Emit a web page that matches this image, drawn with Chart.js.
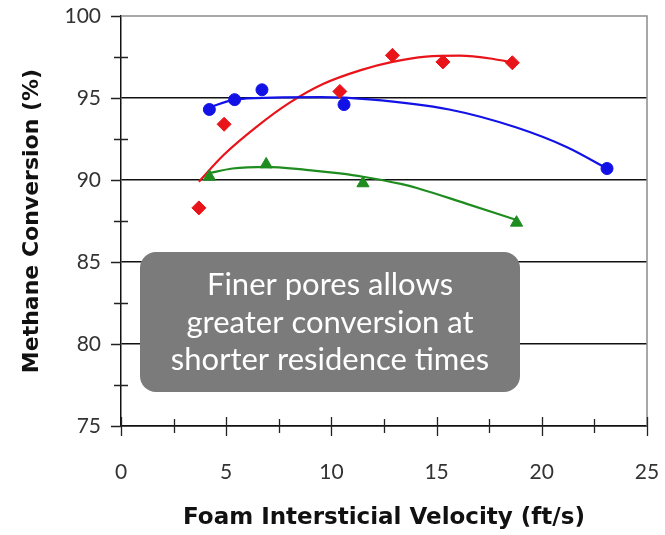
<!DOCTYPE html>
<html>
<head>
<meta charset="utf-8">
<script src="https://cdn.jsdelivr.net/npm/chart.js@4.4.0/dist/chart.umd.min.js"></script>
<style>
  html, body { margin: 0; padding: 0; background: #ffffff; }
  #wrap { width: 665px; height: 535px; }
</style>
</head>
<body>
<div id="wrap"><canvas id="chart" width="665" height="535"></canvas></div>
<script>
const blueX = [4.2, 5.4, 6.7, 10.6, 23.1];
const blueY = [94.3, 94.9, 95.5, 94.6, 90.7];
const redX = [3.7, 4.9, 10.4, 12.9, 15.3, 18.6];
const redY = [88.3, 93.4, 95.4, 97.6, 97.2, 97.15];
const greenX = [4.2, 6.9, 11.5, 18.8];
const greenY = [90.2, 90.95, 89.8, 87.4];

//trend curves
const blueFitX = [4.15, 5.4, 7.2, 9.5, 11.8, 15.6, 18.8, 21.2, 23.1];
const blueFitY = [94.4, 94.9, 95.02, 95.05, 94.92, 94.3, 93.2, 92.0, 90.7];
const redFitX = [3.7, 4.9, 6.5, 8.0, 9.6, 11.4, 12.9, 14.5, 16.1, 17.7, 18.65];
const redFitY = [89.9, 91.55, 93.3, 94.7, 95.85, 96.7, 97.2, 97.52, 97.58, 97.38, 97.15];
const greenFitX = [4.15, 5.3, 6.9, 8.8, 10.4, 11.5, 13.3, 14.1, 16.4, 18.8];
const greenFitY = [90.4, 90.7, 90.8, 90.62, 90.4, 90.2, 89.76, 89.5, 88.56, 87.56];

//axis ranges and labels
const xMin = 0, xMax = 25, xStep = 2.5;
const yMin = 75, yMax = 100, yStep = 2.5;
const xTitle = "Foam Intersticial Velocity (ft/s)";
const yTitle = "Methane Conversion (%)";
const noteLines = ["Finer pores allows", "greater conversion at", "shorter residence times"];

const toPoints = (xs, ys) => xs.map((x, i) => ({ x: x, y: ys[i] }));

const blueColor = "#1212e6";
const redColor = "#e8141a";
const greenColor = "#1e8c1e";

//tick marks crossing the axes, frame and the grey note box
const extras = {
  id: "extras",
  afterDraw(chart) {
    const ctx = chart.ctx;
    const x = chart.scales.x;
    const y = chart.scales.y;
    const area = chart.chartArea;
    ctx.save();
    //grey frame on top and right
    ctx.strokeStyle = "#8c8c8c";
    ctx.lineWidth = 1.5;
    ctx.beginPath();
    ctx.moveTo(area.left, area.top);
    ctx.lineTo(area.right, area.top);
    ctx.lineTo(area.right, area.bottom);
    ctx.stroke();
    //tick marks
    ctx.strokeStyle = "#222222";
    ctx.lineWidth = 1.3;
    ctx.beginPath();
    for (let v = yMin; v <= yMax + 0.01; v += yStep) {
      const py = Math.round(y.getPixelForValue(v)) + 0.5;
      if (v % 5 === 0) {
        ctx.moveTo(area.left - 10, py);
        ctx.lineTo(area.left, py);
      } else {
        ctx.moveTo(area.left - 7, py);
        ctx.lineTo(area.left + 7, py);
      }
    }
    for (let v = xMin; v <= xMax + 0.01; v += xStep) {
      const px = Math.round(x.getPixelForValue(v)) + 0.5;
      if (v % 5 === 0) {
        ctx.moveTo(px, area.bottom - 9);
        ctx.lineTo(px, area.bottom + 10);
      } else {
        ctx.moveTo(px, area.bottom - 7);
        ctx.lineTo(px, area.bottom + 7);
      }
    }
    ctx.stroke();
    ctx.restore();

    //note box
    ctx.save();
    const bx = 140, by = 252, bw = 380, bh = 140, r = 16;
    ctx.fillStyle = "#7b7b7b";
    ctx.beginPath();
    ctx.roundRect(bx, by, bw, bh, r);
    ctx.fill();
    ctx.fillStyle = "#ffffff";
    ctx.font = "31px Lato";
    ctx.textAlign = "center";
    ctx.textBaseline = "middle";
    noteLines.forEach((line, i) => {
      ctx.fillText(line, bx + bw / 2, by + 33 + i * 37.5);
    });
    ctx.restore();
  }
};

//keep the plot box where the picture has it
const fixX = (s) => { s.height = 109; s.paddingLeft = 0; s.paddingRight = 0; };
const fixY = (s) => { s.width = 121; s.paddingTop = 0; s.paddingBottom = 0; };

new Chart(document.getElementById("chart"), {
  type: "scatter",
  plugins: [extras],
  data: {
    datasets: [
      { data: toPoints(blueX, blueY), backgroundColor: blueColor, borderColor: blueColor, pointStyle: "circle", pointRadius: 6, order: 1 },
      { data: toPoints(redX, redY), backgroundColor: redColor, borderColor: redColor, pointStyle: "rectRot", pointRadius: 7, order: 1 },
      { data: toPoints(greenX, greenY), backgroundColor: greenColor, borderColor: greenColor, pointStyle: "triangle", pointRadius: 7, order: 1 },
      { data: toPoints(blueFitX, blueFitY), showLine: true, borderColor: blueColor, borderWidth: 2.2, pointRadius: 0, cubicInterpolationMode: "monotone", order: 2 },
      { data: toPoints(redFitX, redFitY), showLine: true, borderColor: redColor, borderWidth: 2.2, pointRadius: 0, cubicInterpolationMode: "monotone", order: 2 },
      { data: toPoints(greenFitX, greenFitY), showLine: true, borderColor: greenColor, borderWidth: 2.2, pointRadius: 0, cubicInterpolationMode: "monotone", order: 2 }
    ]
  },
  options: {
    responsive: false,
    animation: false,
    layout: { autoPadding: false, padding: { top: 16, right: 18, left: 0, bottom: 0 } },
    plugins: {
      legend: { display: false },
      tooltip: { enabled: false }
    },
    scales: {
      x: {
        min: xMin,
        max: xMax,
        afterFit: fixX,
        border: { color: "#111111", width: 1.5 },
        grid: { display: false, drawTicks: false },
        ticks: {
          stepSize: xStep,
          padding: 34,
          color: "#333333",
          font: { family: "Lato", size: 21 },
          maxRotation: 0,
          autoSkip: false,
          callback: (v) => (v % 5 === 0 ? v : "")
        },
        title: {
          display: true,
          text: xTitle,
          color: "#111111",
          font: { family: "DejaVu Sans", size: 23, weight: "bold" },
          padding: { top: 0, bottom: 3 }
        }
      },
      y: {
        min: yMin,
        max: yMax,
        afterFit: fixY,
        border: { color: "#111111", width: 1.5 },
        grid: {
          drawTicks: false,
          lineWidth: 1.5,
          color: (c) => {
            const v = c.tick.value;
            if (v === yMax) return "rgba(0,0,0,0)";
            return v % 5 === 0 ? "#111111" : "rgba(0,0,0,0)";
          }
        },
        ticks: {
          stepSize: yStep,
          padding: 20,
          color: "#333333",
          font: { family: "Lato", size: 21 },
          autoSkip: false,
          callback: (v) => (v % 5 === 0 ? v : "")
        },
        title: {
          display: true,
          text: yTitle,
          color: "#111111",
          font: { family: "DejaVu Sans", size: 22, weight: "bold" },
          padding: { top: 19, bottom: 0 }
        }
      }
    }
  }
});
</script>
</body>
</html>
